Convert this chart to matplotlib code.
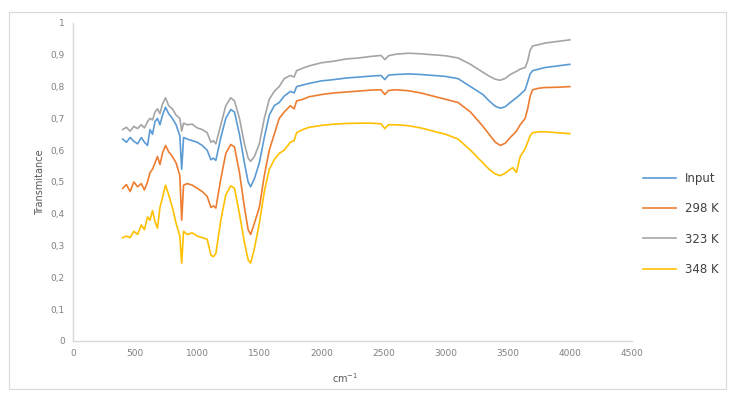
import numpy as np
import matplotlib.pyplot as plt
from matplotlib.patches import Rectangle
from matplotlib.ticker import FuncFormatter

# wavenumber grid (cm-1)
wn = [400, 430, 460, 490, 520, 550, 575, 600, 620, 640, 660, 680, 700, 720, 745,
      770, 800, 830, 860, 875, 890, 920, 960, 1000, 1040, 1080, 1110, 1130, 1150,
      1190, 1230, 1270, 1300, 1340, 1380, 1410, 1430, 1460, 1500, 1540, 1580, 1620,
      1660, 1700, 1750, 1780, 1800, 1850, 1900, 2000, 2100, 2200, 2300, 2400, 2480,
      2510, 2540, 2600, 2700, 2800, 2900, 3000, 3100, 3200, 3300, 3350, 3400, 3440,
      3480, 3520, 3540, 3570, 3600, 3640, 3660, 3680, 3700, 3750, 3800, 3900, 4000]

t_input = [.635, .625, .640, .628, .620, .640, .625, .615, .665, .650, .690, .700, .680,
           .710, .735, .715, .700, .680, .645, .540, .640, .635, .630, .625, .615, .600,
           .570, .575, .568, .640, .700, .728, .720, .650, .560, .500, .485, .510, .560,
           .640, .710, .740, .750, .770, .785, .780, .800, .805, .810, .818, .822, .827,
           .830, .833, .835, .822, .836, .838, .840, .838, .835, .832, .825, .800, .775,
           .755, .738, .732, .737, .750, .756, .765, .775, .790, .815, .840, .850, .855,
           .860, .865, .870]

t_298 = [.480, .492, .470, .500, .485, .495, .475, .500, .530, .540, .560, .580, .555,
         .590, .615, .595, .580, .560, .520, .380, .490, .495, .490, .480, .470, .455,
         .420, .425, .418, .510, .590, .618, .610, .530, .420, .350, .335, .370, .420,
         .520, .600, .650, .700, .720, .740, .730, .755, .760, .768, .775, .780, .783,
         .786, .789, .790, .775, .788, .790, .787, .780, .770, .760, .750, .720, .675,
         .650, .625, .615, .622, .640, .648, .660, .680, .700, .730, .770, .790, .795,
         .797, .798, .800]

t_323 = [.665, .672, .660, .675, .668, .680, .670, .690, .700, .695, .720, .730, .715,
         .745, .765, .740, .730, .710, .700, .660, .685, .680, .682, .670, .665, .655,
         .625, .630, .620, .680, .740, .765, .755, .700, .620, .575, .565, .580, .620,
         .700, .760, .785, .800, .825, .835, .830, .850, .858, .865, .875, .880, .887,
         .890, .895, .898, .885, .897, .902, .905, .903, .900, .897, .890, .870, .845,
         .833, .823, .820, .826, .838, .842, .848, .855, .860, .880, .915, .928, .932,
         .937, .942, .947]

t_348 = [.325, .330, .325, .345, .335, .365, .350, .390, .380, .410, .375, .355, .420,
         .450, .490, .460, .420, .370, .330, .245, .345, .335, .340, .330, .325, .320,
         .270, .265, .275, .380, .460, .488, .480, .400, .310, .255, .245, .290, .370,
         .470, .540, .570, .590, .600, .625, .630, .655, .665, .672, .678, .682, .684,
         .685, .685, .683, .668, .680, .680, .677, .670, .660, .650, .635, .600, .560,
         .540, .525, .520, .528, .540, .545, .530, .580, .605, .625, .645, .655, .658,
         .658, .655, .652]

labels = ['Input', '298 K', '323 K', '348 K']
colors = ['#5B9BD5', '#ED7D31', '#A5A5A5', '#FFC000']

fig = plt.figure(figsize=(7.33, 3.94), dpi=100)
fig.patches.append(Rectangle((9 / 733, 5 / 394), 717 / 733, 377 / 394,
                             transform=fig.transFigure, fill=False,
                             edgecolor='#D9D9D9', linewidth=0.8))

ax = fig.add_axes([73 / 733, 53 / 394, 559 / 733, 318 / 394])
for y, lab, c in zip([t_input, t_298, t_323, t_348], labels, colors):
    ax.plot(wn, y, color=c, linewidth=1.2, label=lab)

ax.set_xlim(0, 4500)
ax.set_ylim(0, 1)
ax.set_xticks(np.arange(0, 4501, 500))
ax.set_yticks(np.arange(0, 1.01, 0.1))
ax.yaxis.set_major_formatter(FuncFormatter(
    lambda v, p: '0' if v == 0 else ('1' if abs(v - 1) < 1e-9 else ('%.1f' % v).replace('.', ','))))
ax.tick_params(length=0, labelsize=6.5, labelcolor='#808080', pad=6)

for s in ['top', 'right']:
    ax.spines[s].set_visible(False)
for s in ['left', 'bottom']:
    ax.spines[s].set_color('#D9D9D9')
    ax.spines[s].set_linewidth(1.0)

ax.set_ylabel('Transmitance', fontsize=7, color='#595959', labelpad=4)
fig.text(345 / 733, 1 - 378 / 394, 'cm$^{-1}$', fontsize=7, color='#595959',
         ha='center', va='center')

fig.legend(loc='center left', bbox_to_anchor=(632 / 733, 1 - 224 / 394),
           frameon=False, fontsize=8.5, handlelength=2.8, labelspacing=1.45,
           labelcolor='#404040')

fig.savefig('out.png', dpi=100)
